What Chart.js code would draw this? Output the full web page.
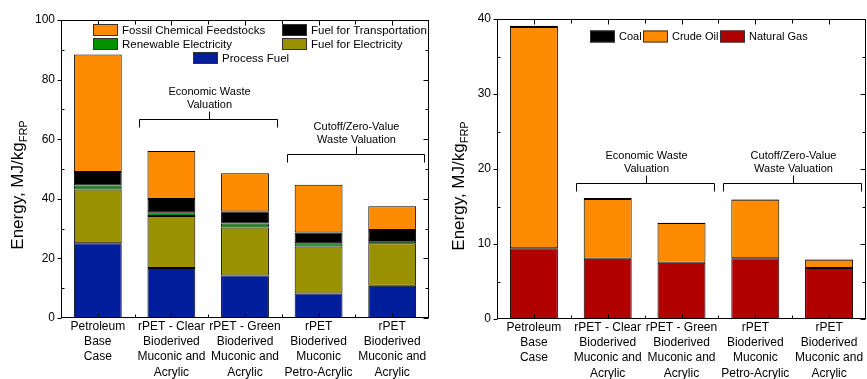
<!DOCTYPE html>
<html>
<head>
<meta charset="utf-8">
<script src="https://cdn.jsdelivr.net/npm/chart.js@4"></script>
<style>
  body { margin: 0; background: #fff; }
  .wrap { position: absolute; top: 0; height: 379px; }
</style>
</head>
<body>
<div class="wrap" style="left:0;width:440px"><canvas id="energyChart" width="440" height="379"></canvas></div>
<div class="wrap" style="left:440px;width:427px"><canvas id="fossilChart" width="427" height="379"></canvas></div>
<script>
const categories = [
    ['Petroleum', 'Base', 'Case'],
    ['rPET - Clear', 'Bioderived', 'Muconic and', 'Acrylic'],
    ['rPET - Green', 'Bioderived', 'Muconic and', 'Acrylic'],
    ['rPET', 'Bioderived', 'Muconic', 'Petro-Acrylic'],
    ['rPET', 'Bioderived', 'Muconic and', 'Acrylic']
];

// left panel, MJ/kg FRP
const processFuel = [25.1, 16.8, 14.3, 8.2, 10.8];
const fuelForElectricity = [18.0, 17.4, 16.1, 15.8, 14.3];
const renewableElectricity = [1.4, 1.3, 1.3, 1.1, 1.1];
const fuelForTransportation = [4.5, 4.4, 4.0, 3.6, 3.3];
const fossilFeedstocks = [39.4, 16.1, 12.9, 16.0, 8.0];

// right panel, MJ/kg FRP
const naturalGas = [9.45, 8.05, 7.5, 8.1, 6.8];
const crudeOil = [29.5, 7.95, 5.3, 7.8, 1.1];
const coal = [0.15, 0.12, 0.05, 0.06, 0.06];

const leftTicks = [0, 20, 40, 60, 80, 100];
const rightTicks = [0, 10, 20, 30, 40];

const FONT = '"Liberation Sans", Arial, sans-serif';
const colors = {
    orange: '#ff8c00',
    black: '#000000',
    green: '#009100',
    olive: '#9a9100',
    navy: '#001e9c',
    red: '#b00000'
};

function barSet(label, data, color) {
    return {
        label: label,
        data: data,
        backgroundColor: color,
        borderColor: '#000',
        borderWidth: 1,
        borderSkipped: false,
        barPercentage: 0.65,
        categoryPercentage: 1
    };
}

// frame, mirror ticks, y title with subscript, brackets and legend
const axisFrame = {
    id: 'axisFrame',
    afterDraw(chart, args, opts) {
        const { ctx, chartArea: a, scales: { x, y } } = chart;
        const L = Math.round(a.left) + 0.5, R = Math.round(a.right) - 0.5;
        const T = Math.round(a.top) + 0.5, B = Math.round(a.bottom) - 0.5;
        ctx.save();
        ctx.strokeStyle = '#000';
        ctx.lineWidth = 1;
        ctx.strokeRect(L, T, R - L, B - T);

        ctx.beginPath();
        for (let v = 0; v <= opts.max; v += opts.minor) {
            const py = Math.round(y.getPixelForValue(v)) + 0.5;
            if (v % opts.major === 0) {
                ctx.moveTo(L - 4, py); ctx.lineTo(L, py);
                ctx.moveTo(R - 5, py); ctx.lineTo(R, py);
            } else {
                ctx.moveTo(L, py); ctx.lineTo(L + 3, py);
                ctx.moveTo(R - 3, py); ctx.lineTo(R, py);
            }
        }
        const n = chart.data.labels.length;
        for (let i = 0; i < n; i++) {
            const px = Math.round(x.getPixelForValue(i)) + 0.5;
            ctx.moveTo(px, B); ctx.lineTo(px, B - 4);
            ctx.moveTo(px, T); ctx.lineTo(px, T + 5);
            if (i > 0) {
                const bx = Math.round((x.getPixelForValue(i - 1) + x.getPixelForValue(i)) / 2) + 0.5;
                ctx.moveTo(bx, B); ctx.lineTo(bx, B - 3);
                ctx.moveTo(bx, T); ctx.lineTo(bx, T + 4);
            }
        }
        ctx.stroke();

        // y axis title
        ctx.fillStyle = '#000';
        ctx.translate(opts.titleX, opts.titleY);
        ctx.rotate(-Math.PI / 2);
        ctx.font = '17px ' + FONT;
        const main = 'Energy, MJ/kg';
        const w1 = ctx.measureText(main).width;
        ctx.font = '11px ' + FONT;
        const w2 = ctx.measureText('FRP').width;
        ctx.textBaseline = 'alphabetic';
        ctx.textAlign = 'left';
        ctx.font = '17px ' + FONT;
        ctx.fillText(main, -(w1 + w2) / 2, 6);
        ctx.font = '11px ' + FONT;
        ctx.fillText('FRP', -(w1 + w2) / 2 + w1, 10);
        ctx.setTransform(1, 0, 0, 1, 0, 0);

        // brackets
        ctx.font = '11px ' + FONT;
        ctx.textAlign = 'center';
        ctx.textBaseline = 'middle';
        ctx.beginPath();
        opts.brackets.forEach(b => {
            const x1 = Math.round(x.getPixelForValue(b.from) - 32) + 0.5;
            const x2 = Math.round(x.getPixelForValue(b.to) + 32) + 0.5;
            const yy = Math.round(y.getPixelForValue(b.y)) + 0.5;
            const xc = Math.round((x1 + x2) / 2) + 0.5;
            ctx.moveTo(x1, yy + 8); ctx.lineTo(x1, yy); ctx.lineTo(x2, yy); ctx.lineTo(x2, yy + 8);
            ctx.moveTo(xc, yy); ctx.lineTo(xc, yy - 8);
            ctx.fillText(b.lines[0], xc, yy - 28);
            ctx.fillText(b.lines[1], xc, yy - 15);
        });
        ctx.stroke();

        // legend
        ctx.font = opts.legendFont + ' ' + FONT;
        ctx.textAlign = 'left';
        opts.legend.forEach(item => {
            const ds = chart.data.datasets.find(d => d.label === item.label);
            ctx.fillStyle = ds.backgroundColor;
            ctx.fillRect(item.x, item.y - 6, 25, 12);
            ctx.strokeStyle = '#333';
            ctx.strokeRect(item.x + 0.5, item.y - 5.5, 24, 11);
            ctx.fillStyle = '#000';
            ctx.fillText(item.label, item.x + 29, item.y + 0.5);
        });
        ctx.restore();
    }
};

function makeOptions(yMax, yStep, xHeight, yWidth, pad, frame) {
    return {
        responsive: false,
        devicePixelRatio: 1,
        animation: false,
        layout: { padding: pad },
        plugins: {
            legend: { display: false },
            tooltip: { enabled: false },
            axisFrame: frame
        },
        scales: {
            x: {
                stacked: true,
                grid: { display: false, drawTicks: false },
                border: { display: false },
                ticks: {
                    padding: 1,
                    maxRotation: 0,
                    autoSkip: false,
                    color: '#000',
                    font: { family: FONT, size: 12, lineHeight: 1.27 }
                },
                afterFit: s => { s.height = xHeight; }
            },
            y: {
                stacked: true,
                min: 0,
                max: yMax,
                grid: { display: false, drawTicks: false },
                border: { display: false },
                ticks: {
                    stepSize: yStep,
                    padding: 6,
                    color: '#000',
                    font: { family: FONT, size: 12 }
                },
                afterFit: s => { s.width = yWidth; }
            }
        }
    };
}

new Chart(document.getElementById('energyChart').getContext('2d'), {
    type: 'bar',
    data: {
        labels: categories,
        datasets: [
            barSet('Process Fuel', processFuel, colors.navy),
            barSet('Fuel for Electricity', fuelForElectricity, colors.olive),
            barSet('Renewable Electricity', renewableElectricity, colors.green),
            barSet('Fuel for Transportation', fuelForTransportation, colors.black),
            barSet('Fossil Chemical Feedstocks', fossilFeedstocks, colors.orange)
        ]
    },
    options: makeOptions(leftTicks[leftTicks.length - 1], leftTicks[1] - leftTicks[0], 61, 61,
        { top: 20, right: 11, left: 0, bottom: 0 },
        {
            max: 100, major: 20, minor: 10, titleX: 17, titleY: 185,
            legendFont: '11.5px',
            brackets: [
                { from: 1, to: 2, y: 66.8, lines: ['Economic Waste', 'Valuation'] },
                { from: 3, to: 4, y: 55.0, lines: ['Cutoff/Zero-Value', 'Waste Valuation'] }
            ],
            legend: [
                { label: 'Fossil Chemical Feedstocks', x: 93, y: 30 },
                { label: 'Fuel for Transportation', x: 282, y: 30 },
                { label: 'Renewable Electricity', x: 93, y: 44 },
                { label: 'Fuel for Electricity', x: 282, y: 44 },
                { label: 'Process Fuel', x: 193, y: 58 }
            ]
        }),
    plugins: [axisFrame]
});

new Chart(document.getElementById('fossilChart').getContext('2d'), {
    type: 'bar',
    data: {
        labels: categories,
        datasets: [
            barSet('Natural Gas', naturalGas, colors.red),
            barSet('Crude Oil', crudeOil, colors.orange),
            barSet('Coal', coal, colors.black)
        ]
    },
    options: makeOptions(rightTicks[rightTicks.length - 1], rightTicks[1] - rightTicks[0], 60, 57,
        { top: 19, right: 1, left: 0, bottom: 0 },
        {
            max: 40, major: 10, minor: 5, titleX: 18, titleY: 186,
            legendFont: '11px',
            brackets: [
                { from: 1, to: 2, y: 18.2, lines: ['Economic Waste', 'Valuation'] },
                { from: 3, to: 4, y: 18.2, lines: ['Cutoff/Zero-Value', 'Waste Valuation'] }
            ],
            legend: [
                { label: 'Coal', x: 150, y: 36.5 },
                { label: 'Crude Oil', x: 203, y: 36.5 },
                { label: 'Natural Gas', x: 280, y: 36.5 }
            ]
        }),
    plugins: [axisFrame]
});
</script>
</body>
</html>
